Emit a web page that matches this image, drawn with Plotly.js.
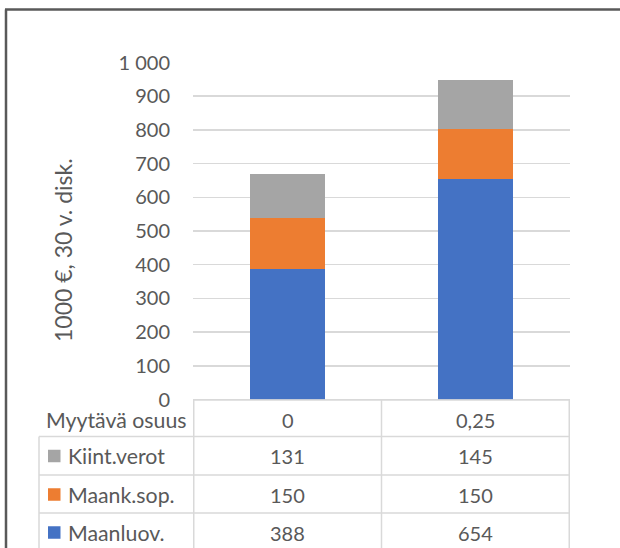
<!DOCTYPE html>
<html>
<head>
<meta charset="utf-8">
<script src="https://cdn.plot.ly/plotly-3.0.1.min.js"></script>
<style>
  html, body { margin: 0; padding: 0; background: #ffffff; }
  #chart { width: 620px; height: 548px; }
</style>
</head>
<body>
<div id="chart"></div>
<script>
// ---- data ----
const categories = ['0', '0,25'];            // Myytävä osuus
const categoryHeader = 'Myytävä osuus';
const seriesNames = ['Maanluov.', 'Maank.sop.', 'Kiint.verot'];
const maanluov = [388, 654];
const maanksop = [150, 150];
const kiintverot = [131, 145];
const yTitle = '1000 €, 30 v. disk.';

// ---- styling ----
const W = 620, H = 548;
const FONT = 'Lato, "Open Sans", sans-serif';
const TXT = '#595959';
const GRID = '#d9d9d9';
const colors = ['#4472C4', '#ED7D31', '#A5A5A5'];
const seriesValues = [maanluov, maanksop, kiintverot];

const xp = px => px / W;
const yp = py => 1 - py / H;

// plot area in pixels
const plotL = 193, plotR = 570, plotT = 62.5, plotB = 399.5;

const traces = seriesNames.map((name, i) => ({
  type: 'bar',
  name: name,
  x: categories,
  y: seriesValues[i],
  marker: { color: colors[i] },
  hoverinfo: 'x+y+name'
}));

// table geometry (pixels)
const tableTop = 400, tableLeft = 39;
const rowLines = [436.5, 475, 513];
const rowCenters = [420, 456, 494.5, 532.5];

const shapes = [];
const annotations = [];

// outer frame (left and top)
shapes.push({ type: 'line', xref: 'paper', yref: 'paper',
  x0: xp(6), x1: xp(6), y0: yp(H + 5), y1: yp(9.5),
  line: { color: '#595959', width: 2.5 } });
shapes.push({ type: 'line', xref: 'paper', yref: 'paper',
  x0: xp(5), x1: xp(W + 5), y0: yp(9.5), y1: yp(9.5),
  line: { color: '#595959', width: 2.5 } });

// table horizontal lines
shapes.push({ type: 'line', xref: 'paper', yref: 'paper',
  x0: xp(plotL), x1: xp(plotR), y0: yp(tableTop), y1: yp(tableTop),
  line: { color: GRID, width: 1.5 } });
rowLines.forEach(r => shapes.push({ type: 'line', xref: 'paper', yref: 'paper',
  x0: xp(tableLeft), x1: xp(plotR), y0: yp(r), y1: yp(r),
  line: { color: GRID, width: 1.5 } }));
// table vertical lines (category boundaries on the x axis)
[-0.5, 0.5, 1.5].forEach(v => shapes.push({ type: 'line', xref: 'x', yref: 'paper',
  x0: v, x1: v, y0: yp(tableTop), y1: yp(H + 5),
  line: { color: GRID, width: 1.5 } }));
// left edge of legend rows
shapes.push({ type: 'line', xref: 'paper', yref: 'paper',
  x0: xp(tableLeft), x1: xp(tableLeft), y0: yp(rowLines[0]), y1: yp(H + 5),
  line: { color: GRID, width: 1.5 } });

// header row
annotations.push({ xref: 'paper', yref: 'paper', x: xp(189), y: yp(rowCenters[0]),
  xanchor: 'right', yanchor: 'middle', text: categoryHeader, showarrow: false,
  font: { family: FONT, size: 21.3, color: TXT } });
categories.forEach(c => annotations.push({ xref: 'x', yref: 'paper', x: c, y: yp(rowCenters[0]),
  xanchor: 'center', yanchor: 'middle', text: c, showarrow: false,
  font: { family: FONT, size: 20, color: TXT } }));

// series rows: top to bottom = reverse of stacking order
const rowOrder = [2, 1, 0];
rowOrder.forEach((si, r) => {
  const cy = rowCenters[r + 1];
  shapes.push({ type: 'rect', xref: 'paper', yref: 'paper',
    x0: xp(48), x1: xp(60.5), y0: yp(cy + 6.25), y1: yp(cy - 6.25),
    fillcolor: colors[si], line: { width: 0 } });
  annotations.push({ xref: 'paper', yref: 'paper', x: xp(66), y: yp(cy),
    xanchor: 'left', yanchor: 'middle', text: seriesNames[si], showarrow: false,
    font: { family: FONT, size: 21.3, color: TXT } });
  categories.forEach((c, ci) => annotations.push({ xref: 'x', yref: 'paper', x: c, y: yp(cy),
    xanchor: 'center', yanchor: 'middle', text: String(seriesValues[si][ci]), showarrow: false,
    font: { family: FONT, size: 20, color: TXT } }));
});

// y axis title
annotations.push({ xref: 'paper', yref: 'paper', x: xp(63), y: yp(250),
  xanchor: 'center', yanchor: 'middle', textangle: -90, text: yTitle, showarrow: false,
  font: { family: FONT, size: 23, color: TXT } });

const layout = {
  width: W, height: H,
  margin: { l: 0, r: 0, t: 0, b: 0, pad: 0 },
  paper_bgcolor: '#ffffff', plot_bgcolor: '#ffffff',
  barmode: 'stack',
  bargap: 0.6,
  showlegend: false,
  separators: ', ',
  font: { family: FONT, size: 20, color: TXT },
  xaxis: {
    domain: [xp(plotL), xp(plotR)],
    type: 'category',
    showticklabels: false,
    showgrid: false, zeroline: false, showline: false, ticks: '',
    fixedrange: true
  },
  yaxis: {
    domain: [yp(plotB), yp(plotT)],
    range: [0, 1000],
    dtick: 100,
    tick0: 0,
    separatethousands: true,
    showgrid: true, gridcolor: GRID, gridwidth: 1.5,
    zeroline: true, zerolinecolor: GRID, zerolinewidth: 1.5,
    showline: false, ticks: '',
    ticklabelstandoff: 22,
    tickfont: { family: FONT, size: 20, color: TXT },
    fixedrange: true
  },
  shapes: shapes,
  annotations: annotations
};

Plotly.newPlot('chart', traces, layout, { displayModeBar: false, staticPlot: true });
</script>
</body>
</html>
